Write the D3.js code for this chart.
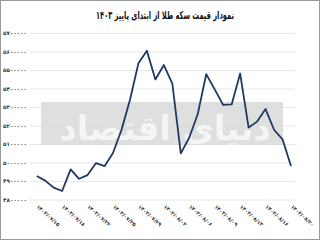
<!DOCTYPE html>
<html>
<head>
<meta charset="utf-8">
<script src="https://cdn.jsdelivr.net/npm/d3@7"></script>
<style>
  body { margin: 0; background: #fff; }
  svg { display: block; font-family: "DejaVu Sans", sans-serif; }
</style>
</head>
<body>
<script>
// تاریخ ها (روزهای معاملاتی)
const dates = [
  "1403/07/15", "1403/07/16", "1403/07/17", "1403/07/18", "1403/07/19", "1403/07/21",
  "1403/07/22", "1403/07/23", "1403/07/24", "1403/07/25", "1403/07/26", "1403/07/28",
  "1403/07/29", "1403/07/30", "1403/08/01", "1403/08/02", "1403/08/03", "1403/08/05",
  "1403/08/06", "1403/08/07", "1403/08/08", "1403/08/09", "1403/08/10", "1403/08/12",
  "1403/08/13", "1403/08/14", "1403/08/15", "1403/08/16", "1403/08/17", "1403/08/19",
  "1403/08/20"
];
// قیمت سکه
const prices = [
  4927000, 4902000, 4864000, 4846000, 4963000, 4912000,
  4932000, 4997000, 4980000, 5051000, 5176000, 5338000,
  5536000, 5604000, 5449000, 5527000, 5427000, 5049000,
  5135000, 5262000, 5478000, 5395000, 5311000, 5314000,
  5481000, 5189000, 5221000, 5289000, 5177000, 5125000,
  4981000
];
const yTicks = [4800000, 4900000, 5000000, 5100000, 5200000, 5300000, 5400000, 5500000, 5600000, 5700000];
const title = "نمودار قیمت سکه طلا از ابتدای پاییز ۱۴۰۳";

const W = 320, H = 240;
const fa = (s) => String(s).replace(/[0-9]/g, (c) => "۰۱۲۳۴۵۶۷۸۹"[+c]);

const svg = d3.select("body").append("svg")
  .attr("width", W)
  .attr("height", H);

svg.append("rect")
  .attr("x", 0.5).attr("y", 0.5)
  .attr("width", W - 1).attr("height", H - 1)
  .attr("fill", "#fff")
  .attr("stroke", "#9a9a9a");

const x = d3.scalePoint()
  .domain(dates)
  .range([36.7, 291]);
const y = d3.scaleLinear()
  .domain([4800000, 5700000])
  .range([199.5, 33]);

//خطوط راهنما
const yAxis = svg.append("g")
  .attr("transform", "translate(295,0)")
  .call(d3.axisLeft(y).tickValues(yTicks).tickSize(265).tickPadding(3).tickFormat(fa));
yAxis.select(".domain").remove();
yAxis.selectAll("line").attr("stroke", "#e6e6e6");
yAxis.selectAll("text")
  .attr("fill", "#333")
  .attr("font-size", 5.6)
  .attr("font-weight", "bold")
  .attr("font-family", "DejaVu Sans");

//واترمارک
const wm = svg.append("g");
wm.append("rect")
  .attr("x", 41).attr("y", 102)
  .attr("width", 242).attr("height", 43)
  .attr("fill", "#d9d9d9")
  .attr("opacity", 0.85);
wm.append("text")
  .attr("x", 165).attr("y", 140)
  .attr("text-anchor", "middle")
  .attr("font-size", 34)
  .attr("font-weight", "bold")
  .attr("fill", "#fff")
  .attr("opacity", 0.7)
  .text("دنیای اقتصاد");

//محور افقی
const xAxis = svg.append("g")
  .attr("transform", "translate(0,206)")
  .call(d3.axisBottom(x)
    .tickValues(dates.filter((d, i) => i % 3 === 0))
    .tickSize(0)
    .tickFormat(fa));
xAxis.select(".domain").remove();
xAxis.selectAll("text")
  .attr("fill", "#333")
  .attr("font-size", 5.2)
  .attr("font-weight", "bold")
  .attr("font-family", "DejaVu Sans")
  .attr("text-anchor", "start")
  .attr("y", 0)
  .attr("dy", "0.3em")
  .attr("transform", "rotate(42)");

//خط قیمت
svg.append("path")
  .datum(prices)
  .attr("d", d3.line().x((d, i) => x(dates[i])).y((d) => y(d)))
  .attr("fill", "none")
  .attr("stroke", "#1f3864")
  .attr("stroke-width", 1.8)
  .attr("stroke-linejoin", "round");

//عنوان
svg.append("text")
  .attr("x", 165).attr("y", 19)
  .attr("text-anchor", "middle")
  .attr("font-size", 11)
  .attr("font-weight", "bold")
  .attr("fill", "#111")
  .attr("textLength", 138)
  .attr("lengthAdjust", "spacingAndGlyphs")
  .text(title);
</script>
</body>
</html>
